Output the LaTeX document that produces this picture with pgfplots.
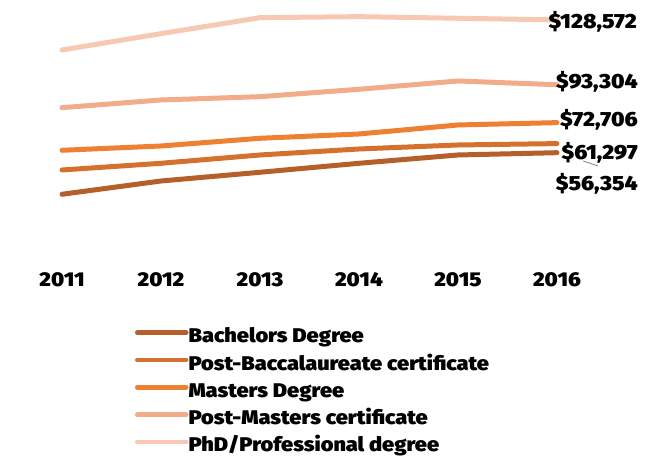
\documentclass[border=0pt]{standalone}
\usepackage{pgfplots}
\pgfplotsset{compat=1.18}
\usepackage{fontspec}
\setmainfont{Fira Sans}
\newfontfamily\heavy{Fira Sans Black}[FakeStretch=1.1]
\definecolor{cbach}{HTML}{B5602A}
\definecolor{cpbac}{HTML}{D4712E}
\definecolor{cmast}{HTML}{EE8032}
\definecolor{cpmas}{HTML}{F3AC89}
\definecolor{cphd}{HTML}{F7C9B4}
\begin{document}
\begin{tikzpicture}
\useasboundingbox (0,0) rectangle (657pt,456pt);
\begin{axis}[
  at={(62pt,199.7pt)}, anchor=south west,
  scale only axis, width=495pt, height=256.3pt,
  xmin=2011, xmax=2016, ymin=0, ymax=139400,
  clip=false,
  hide y axis,
  axis x line*=bottom,
  x axis line style={draw=none},
  xtick style={draw=none},
  xtick={2011,2012,2013,2014,2015,2016},
  xticklabels={2011,2012,2013,2014,2015,2016},
  xticklabel style={anchor=base, yshift=-29.7pt, inner sep=0pt, font=\heavy\fontsize{20}{20}\selectfont},
  legend cell align=left,
  legend style={at={(0.1475,-0.2825)}, anchor=north west, draw=none, fill=none,
    inner sep=0pt, outer sep=0pt, row sep=9.3pt,
    nodes={inner sep=0pt, text height=14pt, text depth=4pt},
    font=\heavy\fontsize{19.8}{19.8}\selectfont},
  legend image code/.code={\draw[#1, line width=4.5pt, line cap=round] (0pt,5pt) -- (49pt,5pt);},
  every axis plot/.append style={line width=5pt, line cap=round, line join=round},
]
\addplot[color=cbach] coordinates {(2011,33730) (2012,40960) (2013,45700) (2014,50590) (2015,55110) (2016,56354)};
\addplot[color=cpbac] coordinates {(2011,46950) (2012,50590) (2013,55110) (2014,58370) (2015,60550) (2016,61297)};
\addplot[color=cmast] coordinates {(2011,57660) (2012,60000) (2013,64190) (2014,66530) (2015,71430) (2016,72706)};
\addplot[color=cpmas] coordinates {(2011,80840) (2012,85030) (2013,86820) (2014,90850) (2015,95360) (2016,93304)};
\addplot[color=cphd] coordinates {(2011,112230) (2012,121100) (2013,129800) (2014,130340) (2015,129470) (2016,128572)};
\legend{Bachelors Degree, Post-Baccalaureate certificate, Masters Degree, Post-Masters certificate, PhD/Professional degree}
\draw[gray, line width=0.8pt] (axis cs:2016.263,51840) -- (axis cs:2016.414,49120);
\begin{scope}[every node/.style={anchor=base east, inner sep=0pt, font=\heavy\fontsize{20.5}{20.5}\selectfont}]
\node at ([xshift=80pt]axis cs:2016,123650) {\$128,572};
\node at ([xshift=81pt]axis cs:2016,91010) {\$93,304};
\node at ([xshift=81pt]axis cs:2016,70340) {\$72,706};
\node at ([xshift=81pt]axis cs:2016,52390) {\$61,297};
\node at ([xshift=81pt]axis cs:2016,35520) {\$56,354};
\end{scope}
\end{axis}
\end{tikzpicture}
\end{document}
